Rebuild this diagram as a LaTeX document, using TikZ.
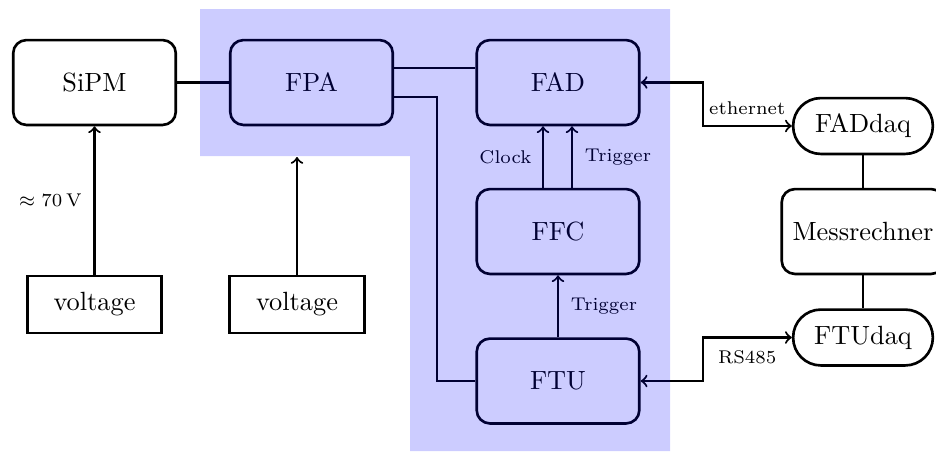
\documentclass[tikz,border=0pt]{standalone}
\usetikzlibrary{calc}
\begin{document}
\begin{tikzpicture}[x=0.013333cm,y=-0.013333cm,
  blk/.style={draw,line width=1pt,rounded corners=5pt,minimum width=61.7pt,minimum height=32.2pt,inner sep=0pt},
  vbox/.style={draw,line width=1pt,minimum width=51pt,minimum height=21.6pt,inner sep=0pt},
  daq/.style={draw,line width=1pt,rounded corners=10.5pt,minimum width=53pt,minimum height=21.2pt,inner sep=0pt},
  conn/.style={thick},
  lbl/.style={font=\scriptsize,inner sep=0pt}]
\useasboundingbox (0,0) rectangle (936,451);
% blocks
\node[blk] (SiPM) at (94.5,82.5) {SiPM};
\node[blk] (FPA) at (311.5,82.5) {FPA};
\node[blk] (FAD) at (558,82.5) {FAD};
\node[blk] (FFC) at (558,231.5) {FFC};
\node[blk] (FTU) at (558,381) {FTU};
\node[vbox] (V1) at (94.5,304.5) {voltage};
\node[vbox] (V2) at (297,304.5) {voltage};
\node[daq] (FADdaq) at (863,126) {FADdaq};
\node[blk] (Mess) at (863,231.5) {Messrechner};
\node[daq] (FTUdaq) at (863,337.5) {FTUdaq};
\coordinate (bluebot) at (297,157);
% connectors
\draw[conn,->] (V1.north) -- (SiPM.south) node[lbl,midway,left=4.5pt] {$\approx 70\,$V};
\draw[conn,->] (V2.north) -- (bluebot);
\draw[conn] (SiPM.east) -- (FPA.west);
\coordinate (p1) at ($(FPA.east)+(0,-14.5)$);
\draw[conn] (p1) -- (p1 -| FAD.west);
\coordinate (p2) at ($(FPA.east)+(0,14.5)$);
\draw[conn] (p2) -- ++(43,0) |- (FTU.west);
\draw[conn,->] ($(FFC.north)+(-15,0)$) -- ($(FAD.south)+(-15,0)$) node[lbl,midway,left=4pt] {Clock};
\draw[conn,->] ($(FFC.north)+(14,0)$) -- ($(FAD.south)+(14,0)$) node[lbl,midway,right=4.5pt] {Trigger};
\draw[conn,->] (FTU.north) -- (FFC.south) node[lbl,midway,right=4.5pt] {Trigger};
\draw[conn,<->] (FAD.east) -- ++(62,0) |- (FADdaq.west) node[lbl,pos=0.75,above=4pt] {ethernet};
\draw[conn,<->] (FTU.east) -- ++(62,0) |- (FTUdaq.west) node[lbl,pos=0.75,below=4.5pt] {RS485};
\draw[conn] (FADdaq.south) -- (Mess.north);
\draw[conn] (Mess.south) -- (FTUdaq.north);
% blue region
\fill[blue,opacity=0.2] (200,9) -- (670,9) -- (670,451) -- (410,451) -- (410,156) -- (200,156) -- cycle;
\end{tikzpicture}
\end{document}
